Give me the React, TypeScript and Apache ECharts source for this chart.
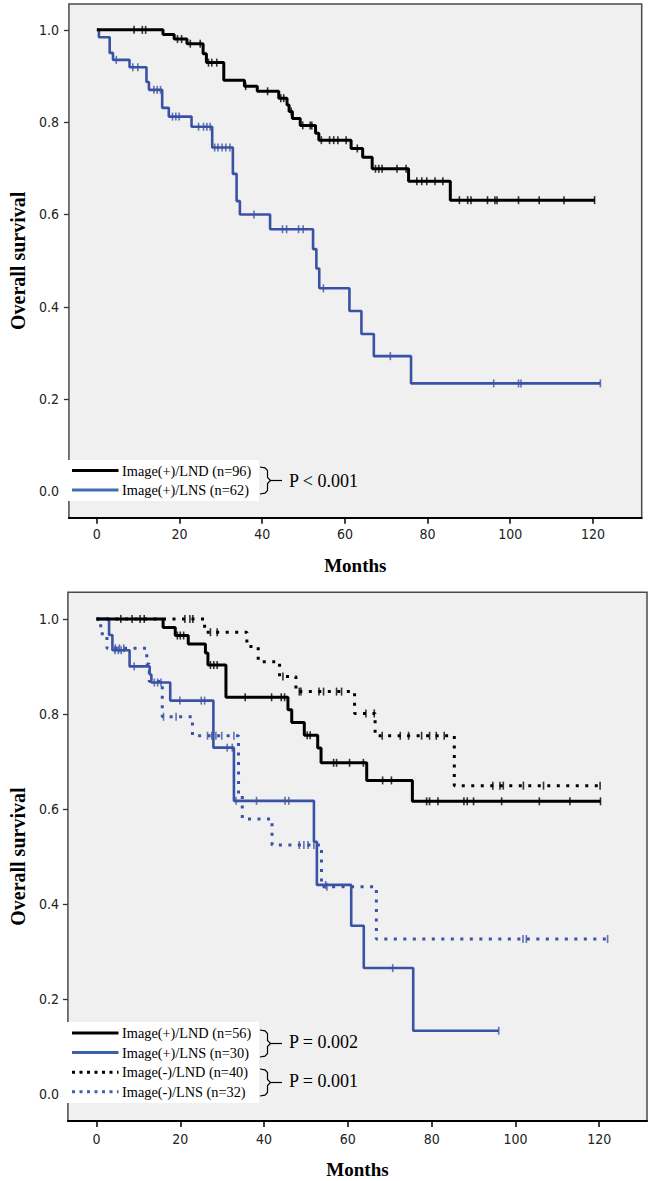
import React, { useEffect, useRef } from "react";
import * as echarts from "echarts";

// ---------- axis ticks ----------
const X_TICKS = [0, 20, 40, 60, 80, 100, 120];
const Y_TICKS = [0, 0.2, 0.4, 0.6, 0.8, 1.0];

// ---------- top panel ----------
const topLndTime = [0, 16, 18.7, 21.8, 25.7, 26.5, 30.7, 35.7, 38.8, 44, 46, 46.5, 47.3, 49.2, 52.9, 53.7, 61.5, 64.3, 66.6, 75.4, 85.5, 120.4];
const topLndSurv = [1, 0.99, 0.98, 0.97, 0.948, 0.929, 0.891, 0.878, 0.867, 0.852, 0.837, 0.823, 0.808, 0.793, 0.776, 0.761, 0.743, 0.724, 0.699, 0.672, 0.631, 0.631];
const topLndCensor = [9, 11, 11.8, 19.5, 20.5, 22.6, 25, 27, 27.8, 29, 36, 41.3, 44.5, 45.2, 47, 49.8, 51.6, 52, 54.3, 56.3, 57.3, 58.3, 60.3, 63, 67.4, 68.2, 69, 72.6, 74.8, 77.4, 78.6, 79.8, 81.8, 83.7, 87.7, 89.7, 90.5, 94.5, 96.3, 96.8, 102, 107, 113, 120.4];

const topLnsTime = [0, 0.5, 3.1, 3.9, 7.9, 12, 12.6, 15.8, 17.4, 22.9, 27.9, 32.9, 33.8, 34.6, 41.9, 52.3, 53.1, 53.8, 61.1, 64, 67, 76, 121.8];
const topLnsSurv = [1, 0.984, 0.95, 0.935, 0.919, 0.887, 0.87, 0.831, 0.812, 0.79, 0.745, 0.688, 0.629, 0.6, 0.568, 0.525, 0.483, 0.44, 0.391, 0.341, 0.293, 0.234, 0.234];
const topLnsCensor = [4.7, 8.7, 9.9, 13.8, 14.6, 15.4, 18.3, 19.1, 19.9, 24.6, 25.8, 26.6, 27.4, 28.5, 29.3, 30.3, 31.2, 32.2, 38, 44.9, 45.9, 48.8, 49.9, 54.8, 71, 96, 102, 102.6, 121.8];

// ---------- bottom panel ----------
const botPosLndTime = [0, 15.9, 18.8, 21.9, 26, 26.6, 30.9, 45.7, 46.6, 49.6, 52.8, 53.6, 64.5, 75.4, 120.3];
const botPosLndSurv = [1, 0.982, 0.965, 0.947, 0.928, 0.903, 0.835, 0.809, 0.782, 0.755, 0.728, 0.697, 0.66, 0.616, 0.616];
const botPosLndCensor = [5.8, 8.5, 10.4, 11.4, 19.3, 20, 20.8, 27.2, 28, 28.8, 35.5, 41.8, 44.1, 44.9, 50.3, 51, 56.6, 57.3, 60.4, 63.7, 68.3, 70.4, 78.8, 79.5, 81.5, 87.7, 88.5, 90, 96.7, 105.7, 113, 120.3];

const botPosLnsTime = [0, 3, 3.8, 7.9, 12.7, 13.1, 17.6, 27.9, 32.8, 51.9, 52.6, 60.8, 63.8, 75.6, 96];
const botPosLnsSurv = [1, 0.966, 0.934, 0.9, 0.883, 0.866, 0.828, 0.729, 0.617, 0.531, 0.44, 0.354, 0.265, 0.133, 0.133];
const botPosLnsCensor = [4.4, 5.2, 5.9, 9, 13.8, 14.6, 15.4, 19.9, 25, 25.8, 31.2, 32.4, 33.3, 38.2, 45, 45.9, 54.7, 70.7, 96];

const botNegLndTime = [0, 25.8, 35.9, 38.6, 43.7, 47.6, 61.6, 66.5, 85.4, 120.2];
const botNegLndSurv = [1, 0.972, 0.942, 0.91, 0.879, 0.847, 0.801, 0.754, 0.649, 0.649];
const botNegLndCensor = [21.1, 22.3, 23, 27.2, 28.8, 44.5, 48.4, 48.8, 53.1, 54.2, 57.3, 58.5, 64.3, 66.3, 68.2, 72.5, 74.5, 77.6, 79.5, 81.1, 83, 94.6, 96.3, 97.1, 101.9, 106.7, 120.2];

const botNegLnsTime = [0, 1, 2.5, 12, 12.6, 15.7, 22.9, 33.9, 34.8, 41.9, 53.7, 66.8, 122];
const botNegLnsSurv = [1, 0.969, 0.938, 0.905, 0.868, 0.794, 0.754, 0.629, 0.579, 0.524, 0.436, 0.326, 0.326];
const botNegLnsCensor = [4.5, 5.5, 6.5, 16, 19, 26.5, 27.5, 28.5, 29.9, 32.8, 48.4, 49.5, 50.5, 51.9, 55, 101.8, 102.6, 122];

// ---------- texts ----------
const topLegendLabels = ["Image(+)/LND (n=96)", "Image(+)/LNS (n=62)"];
const bottomLegendLabels = ["Image(+)/LND (n=56)", "Image(+)/LNS (n=30)", "Image(-)/LND (n=40)", "Image(-)/LNS (n=32)"];
const topPValues = ["P < 0.001"];
const bottomPValues = ["P = 0.002", "P = 0.001"];
const yAxisTitle = "Overall survival";
const xAxisTitle = "Months";

const BLACK = "#000000";
const BLUE = "#3a52a5";
const SERIF = "'Liberation Serif', 'Times New Roman', serif";
const NARROW = "'Liberation Sans Narrow', 'Arial Narrow', 'DejaVu Sans Condensed', sans-serif";

function stepValue(times: number[], surv: number[], t: number) {
  let v = surv[0];
  for (let i = 0; i < times.length; i++) {
    if (times[i] <= t) v = surv[i];
    else break;
  }
  return v;
}

function curve(name: string, times: number[], surv: number[], censor: number[], color: string, dotted: boolean, idx: number) {
  const isBlack = color === BLACK;
  return [
    {
      type: "line",
      name,
      xAxisIndex: idx,
      yAxisIndex: idx,
      data: times.map((t, i) => [t, surv[i]]),
      step: "end",
      showSymbol: false,
      symbol: "none",
      silent: true,
      z: dotted ? 3 : 4,
      lineStyle: { color, width: dotted ? 3 : isBlack ? 3 : 2.6, type: dotted ? [3, 6.5] : "solid", cap: "butt" },
    },
    {
      type: "scatter",
      name: name + " censored",
      xAxisIndex: idx,
      yAxisIndex: idx,
      data: censor.map((t) => [t, stepValue(times, surv, t)]),
      symbol: "rect",
      symbolSize: [1.6, 8],
      silent: true,
      z: 5,
      itemStyle: { color },
    },
  ];
}

function xAxisCfg(idx: number, min: number, max: number, nameGap: number, margin: number) {
  return {
    gridIndex: idx,
    type: "value",
    min,
    max,
    name: xAxisTitle,
    nameLocation: "middle",
    nameGap,
    nameTextStyle: { fontFamily: SERIF, fontWeight: "bold", fontSize: 19, color: "#000", lineHeight: 19 },
    axisLine: { show: true, onZero: false, lineStyle: { color: "#000", width: 2 } },
    axisTick: { show: true, customValues: X_TICKS, length: 6, lineStyle: { color: "#000", width: 1.5 } },
    axisLabel: { customValues: X_TICKS, margin, fontFamily: NARROW, fontSize: 14, color: "#222", lineHeight: 14 },
    splitLine: { show: false },
  };
}

function yAxisCfg(idx: number, nameGap: number, margin: number) {
  return {
    gridIndex: idx,
    type: "value",
    position: "left",
    min: -0.057,
    max: 1.056,
    name: yAxisTitle,
    nameLocation: "middle",
    nameGap,
    nameTextStyle: { fontFamily: SERIF, fontWeight: "bold", fontSize: 20, color: "#000", lineHeight: 20 },
    axisLine: { show: false, onZero: false },
    axisTick: { show: true, customValues: Y_TICKS, length: 5, lineStyle: { color: "#333", width: 1.3 } },
    axisLabel: {
      customValues: Y_TICKS,
      margin,
      fontFamily: NARROW,
      fontSize: 14,
      color: "#222",
      formatter: (v: number) => v.toFixed(1),
    },
    splitLine: { show: false },
  };
}

function bracket(x0: number, yTop: number, yBot: number) {
  const yMid = (yTop + yBot) / 2;
  return [
    {
      type: "polyline",
      shape: {
        points: [
          [x0, yTop],
          [x0 + 5, yTop + 0.8],
          [x0 + 7.5, yTop + 3.5],
          [x0 + 7.5, yMid - 3],
          [x0 + 10.5, yMid],
          [x0 + 7.5, yMid + 3],
          [x0 + 7.5, yBot - 3.5],
          [x0 + 5, yBot - 0.8],
          [x0, yBot],
        ],
      },
      style: { stroke: "#000", lineWidth: 1.2, fill: "none" },
    },
    { type: "line", shape: { x1: x0 + 10.5, y1: yMid, x2: x0 + 22, y2: yMid }, style: { stroke: "#000", lineWidth: 1.2 } },
  ];
}

function legendGraphics(labels: string[], styles: { color: string; dotted: boolean }[], boxTop: number, boxH: number, rowStart: number, rowGap: number) {
  const els: any[] = [
    { type: "rect", shape: { x: 63, y: boxTop, width: 196, height: boxH }, style: { fill: "#ffffff" }, z: 10 },
  ];
  labels.forEach((lab, i) => {
    const y = rowStart + i * rowGap;
    els.push({
      type: "line",
      z: 11,
      shape: { x1: 72, y1: y, x2: 118.5, y2: y },
      style: { stroke: styles[i].color, lineWidth: 3, lineDash: styles[i].dotted ? [3, 4.5] : null },
    });
    els.push({
      type: "text",
      z: 11,
      x: 122,
      y,
      style: { text: lab, fontFamily: SERIF, fontSize: 14.3, fill: "#000", align: "left", verticalAlign: "middle" },
    });
  });
  return els;
}

export default function App() {
  const ref = useRef<HTMLDivElement>(null);

  useEffect(() => {
    if (!ref.current) return;
    const chart = echarts.init(ref.current, null, { renderer: "svg" });

    const graphic: any[] = [
      ...legendGraphics(
        topLegendLabels,
        [
          { color: BLACK, dotted: false },
          { color: "#3f6fb0", dotted: false },
        ],
        460,
        41,
        470.5,
        19.5
      ),
      ...bracket(260, 467, 494).map((e) => ({ ...e, z: 11 })),
      {
        type: "text",
        z: 11,
        x: 289,
        y: 480.5,
        style: { text: topPValues[0], fontFamily: SERIF, fontSize: 18, fill: "#000", align: "left", verticalAlign: "middle" },
      },
      ...legendGraphics(
        bottomLegendLabels,
        [
          { color: BLACK, dotted: false },
          { color: "#3a5fae", dotted: false },
          { color: BLACK, dotted: true },
          { color: "#3a5fae", dotted: true },
        ],
        1022,
        81,
        1033,
        19.6
      ),
      ...bracket(260, 1030, 1057).map((e) => ({ ...e, z: 11 })),
      ...bracket(260, 1069, 1096).map((e) => ({ ...e, z: 11 })),
      {
        type: "text",
        z: 11,
        x: 289,
        y: 1042,
        style: { text: bottomPValues[0], fontFamily: SERIF, fontSize: 18, fill: "#000", align: "left", verticalAlign: "middle" },
      },
      {
        type: "text",
        z: 11,
        x: 289,
        y: 1080.5,
        style: { text: bottomPValues[1], fontFamily: SERIF, fontSize: 18, fill: "#000", align: "left", verticalAlign: "middle" },
      },
    ];

    chart.setOption({
      animation: false,
      backgroundColor: "#ffffff",
      grid: [
        { left: 60.4, top: 4, width: 581.3, height: 513.7, show: true, backgroundColor: "#f0f0f0", borderColor: "#4a4a4a", borderWidth: 1.5 },
        { left: 55.4, top: 592.3, width: 591.6, height: 528.7, show: true, backgroundColor: "#f0f0f0", borderColor: "#4a4a4a", borderWidth: 1.5 },
      ],
      xAxis: [xAxisCfg(0, -6.76, 131.8, 38, 9), xAxisCfg(1, -6.82, 131.4, 39, 11)],
      yAxis: [yAxisCfg(0, 32, 10), yAxisCfg(1, 30, 9)],
      series: [
        ...curve("Image(+)/LNS (n=62)", topLnsTime, topLnsSurv, topLnsCensor, BLUE, false, 0),
        ...curve("Image(+)/LND (n=96)", topLndTime, topLndSurv, topLndCensor, BLACK, false, 0),
        ...curve("Image(-)/LNS (n=32)", botNegLnsTime, botNegLnsSurv, botNegLnsCensor, BLUE, true, 1),
        ...curve("Image(-)/LND (n=40)", botNegLndTime, botNegLndSurv, botNegLndCensor, BLACK, true, 1),
        ...curve("Image(+)/LNS (n=30)", botPosLnsTime, botPosLnsSurv, botPosLnsCensor, BLUE, false, 1),
        ...curve("Image(+)/LND (n=56)", botPosLndTime, botPosLndSurv, botPosLndCensor, BLACK, false, 1),
      ],
      graphic,
    });

    return () => chart.dispose();
  }, []);

  return <div ref={ref} style={{ position: "absolute", left: 0, top: 0, width: 650, height: 1181 }} />;
}
